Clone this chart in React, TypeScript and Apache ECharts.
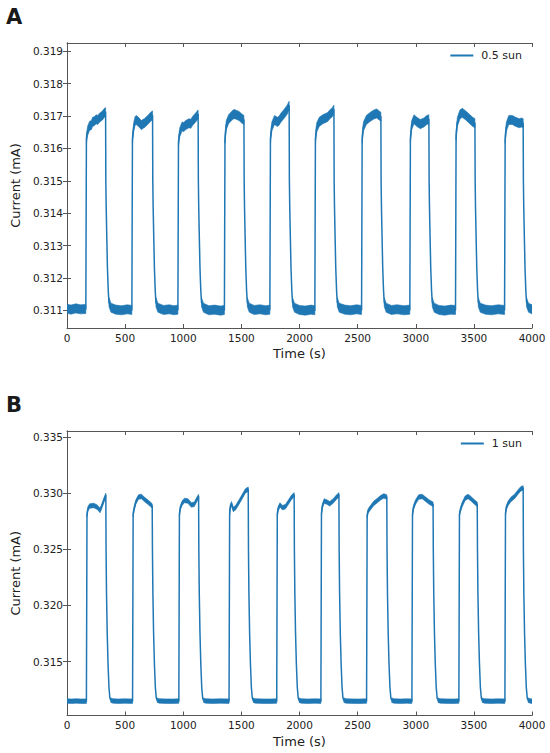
import React, { useEffect, useRef } from "react";
import * as echarts from "echarts";

type Pt = [number, number];

const timeTicks: number[] = [0, 500, 1000, 1500, 2000, 2500, 3000, 3500, 4000];
const halfSunTicks: number[] = [0.311, 0.312, 0.313, 0.314, 0.315, 0.316, 0.317, 0.318, 0.319];
const oneSunTicks: number[] = [0.315, 0.32, 0.325, 0.33, 0.335];

const halfSunNoise = 0.00014;
const oneSunNoise = 0.0002;

// ---------- Panel A: 0.5 sun ----------
const halfSunBase: Pt[][] = [
  [[0, 0.31105], [35, 0.31102], [75, 0.31106], [115, 0.31103], [162, 0.31104]],
  [[361, 0.31125], [378, 0.31108], [420, 0.31102], [470, 0.311], [520, 0.31103], [558, 0.31101]],
  [[765, 0.31125], [782, 0.31108], [830, 0.31101], [880, 0.31103], [920, 0.311], [954, 0.31102]],
  [[1157, 0.31125], [1174, 0.31108], [1220, 0.311], [1270, 0.31102], [1320, 0.31099], [1354, 0.31101]],
  [[1551, 0.31125], [1568, 0.31108], [1610, 0.31101], [1660, 0.31103], [1710, 0.311], [1745, 0.31102]],
  [[1940, 0.31125], [1957, 0.31108], [2000, 0.31101], [2050, 0.31099], [2100, 0.31102], [2132, 0.311]],
  [[2325, 0.31125], [2342, 0.31108], [2390, 0.31102], [2440, 0.311], [2490, 0.31103], [2534, 0.31101]],
  [[2729, 0.31125], [2746, 0.31108], [2790, 0.31101], [2840, 0.31103], [2900, 0.311], [2949, 0.31102]],
  [[3142, 0.31125], [3159, 0.31108], [3200, 0.31101], [3250, 0.31099], [3300, 0.31102], [3342, 0.31101]],
  [[3538, 0.31125], [3555, 0.31108], [3600, 0.31102], [3650, 0.311], [3710, 0.31103], [3764, 0.31101]],
  [[3953, 0.31125], [3970, 0.31108], [4000, 0.31103]],
];

const halfSunPlateau: Pt[][] = [
  [[167, 0.3163], [178, 0.31655], [195, 0.3167], [210, 0.31672], [220, 0.31682], [235, 0.31684], [250, 0.3169], [265, 0.31688], [280, 0.31695], [305, 0.31702], [322, 0.3171], [332, 0.31712]],
  [[563, 0.3163], [575, 0.31668], [585, 0.31684], [595, 0.31688], [615, 0.31682], [640, 0.31672], [655, 0.31676], [665, 0.31678], [695, 0.31688], [720, 0.31698], [736, 0.31702]],
  [[959, 0.3162], [970, 0.3165], [990, 0.31668], [1005, 0.31666], [1020, 0.31672], [1050, 0.31678], [1065, 0.31676], [1080, 0.31685], [1105, 0.31695], [1128, 0.31705]],
  [[1359, 0.3163], [1370, 0.31672], [1390, 0.3169], [1420, 0.31702], [1435, 0.31706], [1450, 0.31705], [1480, 0.317], [1505, 0.31692], [1522, 0.31688]],
  [[1750, 0.3163], [1762, 0.31668], [1785, 0.31688], [1810, 0.31682], [1825, 0.31686], [1840, 0.31695], [1870, 0.31708], [1895, 0.3172], [1905, 0.31728], [1911, 0.31732]],
  [[2137, 0.3163], [2148, 0.31665], [2170, 0.31682], [2200, 0.3169], [2230, 0.31695], [2245, 0.31698], [2260, 0.31705], [2282, 0.31712], [2296, 0.3172]],
  [[2539, 0.3163], [2550, 0.31668], [2575, 0.31688], [2610, 0.31698], [2640, 0.31705], [2665, 0.31708], [2685, 0.31702], [2700, 0.31698]],
  [[2954, 0.3163], [2965, 0.31672], [2985, 0.3169], [3010, 0.31682], [3040, 0.31675], [3055, 0.31678], [3070, 0.3168], [3095, 0.31688], [3113, 0.3169]],
  [[3347, 0.3164], [3358, 0.31682], [3380, 0.31705], [3400, 0.3171], [3430, 0.31702], [3460, 0.31692], [3490, 0.31682], [3509, 0.31678]],
  [[3769, 0.3163], [3780, 0.31668], [3800, 0.31688], [3830, 0.31688], [3860, 0.31682], [3890, 0.31678], [3910, 0.3168], [3924, 0.31678]],
];

const halfSunDecay: Pt[][] = [
  [[334, 0.315], [337, 0.3142], [342, 0.3133], [348, 0.3123], [355, 0.3116]],
  [[738, 0.315], [741, 0.3142], [746, 0.3133], [752, 0.3123], [759, 0.3116]],
  [[1130, 0.315], [1133, 0.3142], [1138, 0.3133], [1144, 0.3123], [1151, 0.3116]],
  [[1524, 0.315], [1527, 0.3142], [1532, 0.3133], [1538, 0.3123], [1545, 0.3116]],
  [[1913, 0.315], [1916, 0.3142], [1921, 0.3133], [1927, 0.3123], [1934, 0.3116]],
  [[2298, 0.315], [2301, 0.3142], [2306, 0.3133], [2312, 0.3123], [2319, 0.3116]],
  [[2702, 0.315], [2705, 0.3142], [2710, 0.3133], [2716, 0.3123], [2723, 0.3116]],
  [[3115, 0.315], [3118, 0.3142], [3123, 0.3133], [3129, 0.3123], [3136, 0.3116]],
  [[3511, 0.315], [3514, 0.3142], [3519, 0.3133], [3525, 0.3123], [3532, 0.3116]],
  [[3926, 0.315], [3929, 0.3142], [3934, 0.3133], [3940, 0.3123], [3947, 0.3116]],
];

// ---------- Panel B: 1 sun ----------
const oneSunBase: Pt[][] = [
  [[0, 0.31148], [40, 0.31146], [80, 0.31149], [120, 0.31146], [167, 0.31147]],
  [[376, 0.31156], [395, 0.31149], [440, 0.31146], [500, 0.31148], [564, 0.31146]],
  [[775, 0.31156], [794, 0.31149], [850, 0.31147], [910, 0.31146], [962, 0.31148]],
  [[1174, 0.31156], [1193, 0.31149], [1250, 0.31146], [1320, 0.31148], [1394, 0.31147]],
  [[1601, 0.31156], [1620, 0.31149], [1680, 0.31147], [1750, 0.31146], [1804, 0.31148]],
  [[1996, 0.31156], [2015, 0.31149], [2070, 0.31146], [2130, 0.31148], [2184, 0.31147]],
  [[2381, 0.31156], [2400, 0.31149], [2460, 0.31147], [2520, 0.31146], [2577, 0.31148]],
  [[2793, 0.31156], [2812, 0.31149], [2870, 0.31146], [2920, 0.31148], [2967, 0.31147]],
  [[3191, 0.31156], [3210, 0.31149], [3270, 0.31147], [3330, 0.31146], [3371, 0.31148]],
  [[3571, 0.31156], [3590, 0.31149], [3650, 0.31146], [3710, 0.31148], [3767, 0.31147]],
  [[3966, 0.31156], [3985, 0.31149], [4000, 0.31147]],
];

const oneSunPlateau: Pt[][] = [
  [[172, 0.3281], [180, 0.3286], [195, 0.32885], [230, 0.3289], [260, 0.32875], [285, 0.32845], [305, 0.329], [322, 0.3295], [334, 0.3298]],
  [[569, 0.3281], [577, 0.3286], [592, 0.3292], [615, 0.32965], [640, 0.3297], [665, 0.32945], [695, 0.3292], [718, 0.329], [733, 0.32885]],
  [[967, 0.3281], [975, 0.3287], [990, 0.3291], [1010, 0.32935], [1040, 0.3293], [1070, 0.32895], [1095, 0.329], [1115, 0.3294], [1132, 0.3297]],
  [[1399, 0.3282], [1405, 0.3288], [1415, 0.32905], [1430, 0.32855], [1450, 0.3287], [1480, 0.3292], [1510, 0.32975], [1535, 0.3302], [1559, 0.33035]],
  [[1809, 0.3281], [1816, 0.3286], [1832, 0.32895], [1855, 0.3287], [1880, 0.3288], [1905, 0.3292], [1930, 0.3296], [1954, 0.32985]],
  [[2189, 0.3282], [2196, 0.3288], [2212, 0.3293], [2235, 0.3292], [2260, 0.32905], [2290, 0.3293], [2315, 0.3296], [2339, 0.32985]],
  [[2582, 0.328], [2590, 0.3284], [2610, 0.3287], [2640, 0.3291], [2670, 0.32935], [2700, 0.3296], [2725, 0.32975], [2751, 0.32965]],
  [[2972, 0.3281], [2980, 0.3287], [2998, 0.3292], [3025, 0.32965], [3055, 0.3297], [3085, 0.32945], [3115, 0.3292], [3149, 0.329]],
  [[3376, 0.3281], [3384, 0.3285], [3400, 0.329], [3425, 0.32955], [3450, 0.3297], [3475, 0.3295], [3505, 0.3292], [3529, 0.329]],
  [[3772, 0.3282], [3779, 0.3287], [3795, 0.3291], [3820, 0.32945], [3850, 0.3297], [3880, 0.3301], [3905, 0.3304], [3924, 0.33045]],
];

const oneSunDecay: Pt[][] = [
  [[336, 0.325], [340, 0.321], [346, 0.3175], [353, 0.3148], [361, 0.3127], [369, 0.31175]],
  [[735, 0.325], [739, 0.321], [745, 0.3175], [752, 0.3148], [760, 0.3127], [768, 0.31175]],
  [[1134, 0.325], [1138, 0.321], [1144, 0.3175], [1151, 0.3148], [1159, 0.3127], [1167, 0.31175]],
  [[1561, 0.325], [1565, 0.321], [1571, 0.3175], [1578, 0.3148], [1586, 0.3127], [1594, 0.31175]],
  [[1956, 0.325], [1960, 0.321], [1966, 0.3175], [1973, 0.3148], [1981, 0.3127], [1989, 0.31175]],
  [[2341, 0.325], [2345, 0.321], [2351, 0.3175], [2358, 0.3148], [2366, 0.3127], [2374, 0.31175]],
  [[2753, 0.325], [2757, 0.321], [2763, 0.3175], [2770, 0.3148], [2778, 0.3127], [2786, 0.31175]],
  [[3151, 0.325], [3155, 0.321], [3161, 0.3175], [3168, 0.3148], [3176, 0.3127], [3184, 0.31175]],
  [[3531, 0.325], [3535, 0.321], [3541, 0.3175], [3548, 0.3148], [3556, 0.3127], [3564, 0.31175]],
  [[3926, 0.325], [3930, 0.321], [3936, 0.3175], [3943, 0.3148], [3951, 0.3127], [3959, 0.31175]],
];

const BLUE = "#1f77b4";
const AXIS = "#555555";
const TEXT = "#222222";
const FONT = "DejaVu Sans";

function fullTrace(...groups: Pt[][][]): Pt[] {
  const pts: Pt[] = [];
  groups.forEach((g) => g.forEach((seg) => seg.forEach((p) => pts.push(p))));
  return pts.sort((a, b) => a[0] - b[0]);
}

function noiseSegments(...groups: Pt[][][]): Pt[][] {
  const segs: Pt[][] = [];
  groups.forEach((g) => g.forEach((seg) => segs.push(seg)));
  return segs.sort((a, b) => a[0][0] - b[0][0]);
}

function xAxes(gridIndex: number) {
  const common = {
    gridIndex,
    type: "value" as const,
    min: 0,
    max: 4000,
    interval: 500,
    splitLine: { show: false },
    axisLine: { show: true, lineStyle: { color: AXIS, width: 1 } },
    axisTick: { show: true, inside: true, length: 4, lineStyle: { color: AXIS, width: 1 } },
  };
  return [
    {
      ...common,
      position: "bottom",
      axisLabel: {
        show: true,
        margin: 4,
        color: TEXT,
        fontSize: 10.5,
        fontFamily: FONT,
        formatter: (v: number) => (timeTicks.includes(v) ? String(v) : ""),
      },
      name: "Time (s)",
      nameLocation: "middle",
      nameGap: 19,
      nameTextStyle: { fontSize: 13, color: TEXT, fontFamily: FONT },
    },
    { ...common, position: "top", axisLabel: { show: false } },
  ];
}

function yAxes(gridIndex: number, min: number, max: number, ticks: number[]) {
  const common = {
    gridIndex,
    type: "value" as const,
    min,
    max,
    splitLine: { show: false },
    axisLine: { show: true, lineStyle: { color: AXIS, width: 1 } },
    axisTick: {
      show: true,
      inside: true,
      length: 4,
      customValues: ticks,
      lineStyle: { color: AXIS, width: 1 },
    },
  };
  return [
    {
      ...common,
      position: "left",
      axisLabel: {
        show: true,
        customValues: ticks,
        margin: 4,
        color: TEXT,
        fontSize: 10.5,
        fontFamily: FONT,
        formatter: (v: number) => v.toFixed(3),
      },
      name: "Current (mA)",
      nameLocation: "middle",
      nameRotate: 90,
      nameGap: 34,
      nameTextStyle: { fontSize: 13, color: TEXT, fontFamily: FONT },
    },
    { ...common, position: "right", axisLabel: { show: false } },
  ];
}

function lineSeries(name: string, axis: number, data: Pt[]) {
  return {
    type: "line",
    name,
    xAxisIndex: axis,
    yAxisIndex: axis,
    data,
    symbol: "none",
    showSymbol: false,
    silent: true,
    z: 2,
    itemStyle: { color: BLUE },
    lineStyle: { color: BLUE, width: 1.5, join: "round" },
    emphasis: { disabled: true },
  };
}

function noiseSeries(name: string, axis: number, segs: Pt[][], half: number) {
  return {
    type: "custom",
    name,
    xAxisIndex: axis,
    yAxisIndex: axis,
    silent: true,
    z: 3,
    clip: true,
    data: segs.map((s, i) => [s[0][0], s[0][1], i]),
    renderItem: (params: any, api: any) => {
      const seg = segs[params.dataIndex];
      const upper = seg.map((p) => api.coord([p[0], p[1] + half]));
      const lower = seg.map((p) => api.coord([p[0], p[1] - half])).reverse();
      return {
        type: "polygon",
        shape: { points: [...upper, ...lower] },
        style: { fill: BLUE, stroke: BLUE, lineWidth: 0.6, lineJoin: "round" },
      };
    },
  };
}

export default function App() {
  const ref = useRef<HTMLDivElement>(null);

  useEffect(() => {
    if (!ref.current) return;
    const chart = echarts.init(ref.current, undefined, { renderer: "svg" });

    const legendCommon = {
      right: 28,
      padding: 0,
      itemWidth: 23,
      itemHeight: 2,
      itemGap: 8,
      selectedMode: false,
      textStyle: { fontSize: 11, color: TEXT, fontFamily: FONT, padding: [0, 0, 0, 3] },
    };

    const option = {
      animation: false,
      backgroundColor: "#ffffff",
      textStyle: { fontFamily: FONT },
      grid: [
        { left: 67, top: 43, width: 465, height: 285, containLabel: false },
        { left: 67, top: 431, width: 465, height: 284.5, containLabel: false },
      ],
      xAxis: [...xAxes(0), ...xAxes(1)],
      yAxis: [
        ...yAxes(0, 0.310453, 0.319257, halfSunTicks),
        ...yAxes(1, 0.310191, 0.335534, oneSunTicks),
      ],
      legend: [
        { ...legendCommon, top: 50, data: [{ name: "0.5 sun", icon: "rect" }] },
        { ...legendCommon, top: 438, data: [{ name: "1 sun", icon: "rect" }] },
      ],
      graphic: [
        {
          type: "text",
          left: 6,
          top: 6,
          style: { text: "A", fontSize: 21, fontWeight: "bold", fill: "#1a1a1a", fontFamily: FONT },
        },
        {
          type: "text",
          left: 6,
          top: 394,
          style: { text: "B", fontSize: 21, fontWeight: "bold", fill: "#1a1a1a", fontFamily: FONT },
        },
      ],
      series: [
        lineSeries("0.5 sun", 0, fullTrace(halfSunBase, halfSunPlateau, halfSunDecay)),
        noiseSeries("0.5 sun noise", 0, noiseSegments(halfSunBase, halfSunPlateau), halfSunNoise),
        lineSeries("1 sun", 2, fullTrace(oneSunBase, oneSunPlateau, oneSunDecay)),
        noiseSeries("1 sun noise", 2, noiseSegments(oneSunBase, oneSunPlateau), oneSunNoise),
      ],
    };

    chart.setOption(option as any);
    return () => chart.dispose();
  }, []);

  return (
    <div
      ref={ref}
      style={{ position: "absolute", left: 0, top: 0, width: 550, height: 753 }}
    />
  );
}
